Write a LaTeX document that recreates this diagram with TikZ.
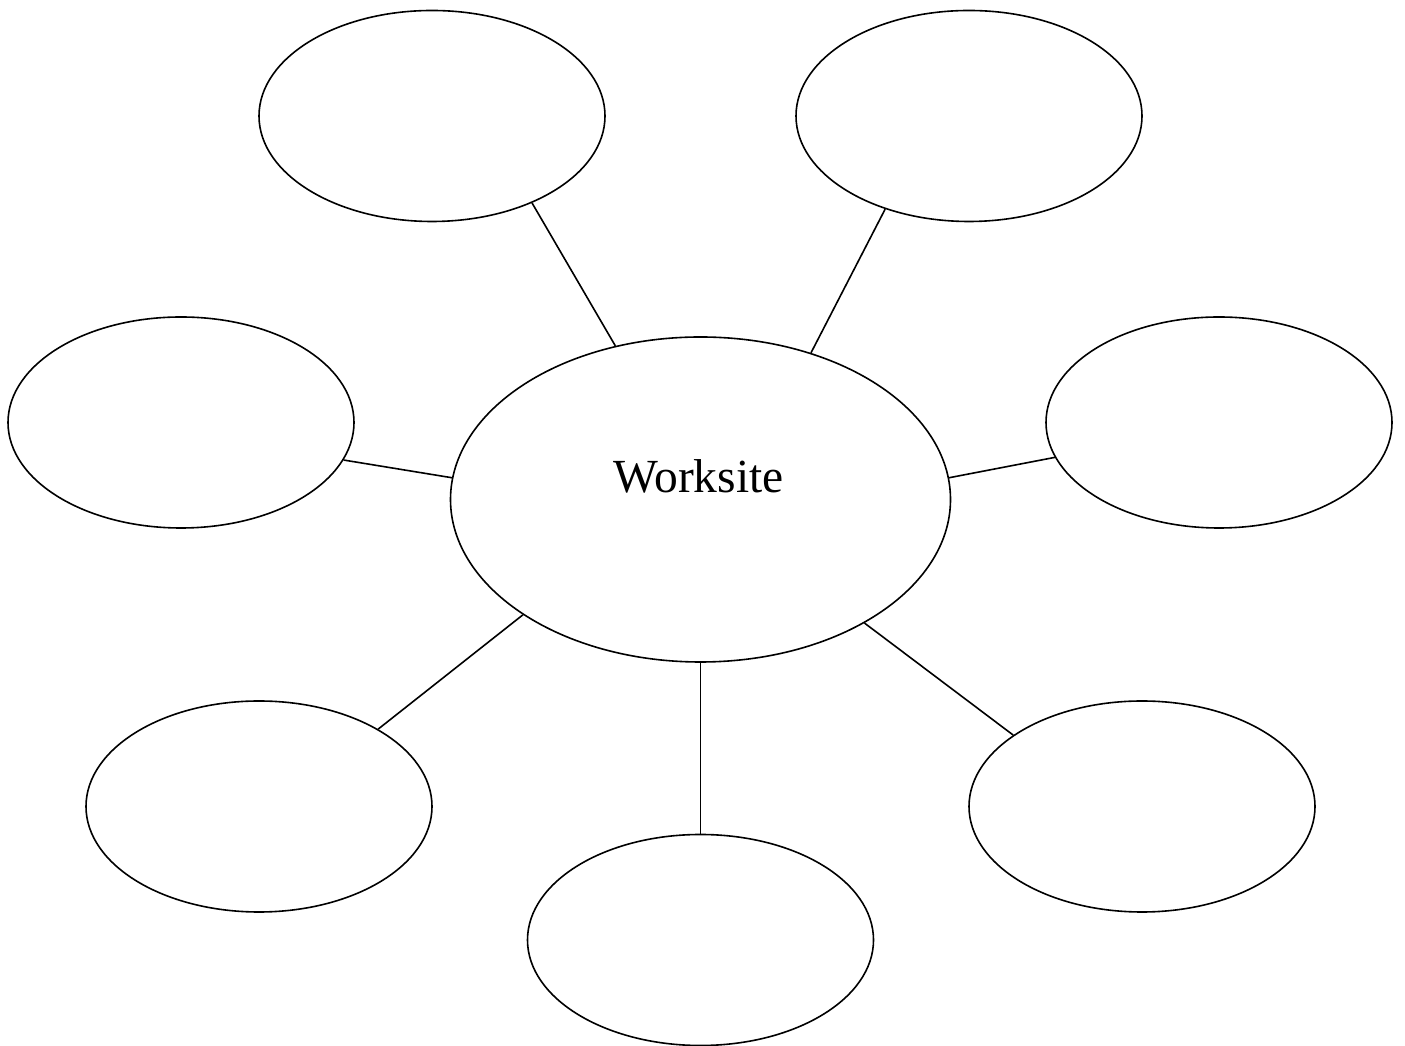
\documentclass[tikz,border=0pt]{standalone}
\usepackage{fontspec}
\setmainfont{Liberation Serif}
\usetikzlibrary{shapes.geometric}
\begin{document}
\begin{tikzpicture}[x=1pt,y=1pt,
  bubble/.style={draw, ellipse, line width=1.6pt, inner sep=0pt,
                 minimum width=346pt, minimum height=211pt},
  hub/.style={draw, ellipse, line width=1.6pt, inner sep=0pt,
              minimum width=500pt, minimum height=325pt},
  spoke/.style={line width=1.6pt}]
  \useasboundingbox (0,0) rectangle (1405,1046);
  % central hub
  \node[hub] (c) at (700.5,546.5) {};
  \node[font=\fontsize{47.5}{52}\selectfont, anchor=base, inner sep=0pt] (lbl) at (698.5,553) {Worksite};
  % surrounding bubbles
  \node[bubble] (tl) at (432,930) {};
  \node[bubble] (tr) at (969,930) {};
  \node[bubble] (ml) at (181,623.5) {};
  \node[bubble] (mr) at (1219,623.5) {};
  \node[bubble] (bl) at (259,239.5) {};
  \node[bubble] (bc) at (700.5,106) {};
  \node[bubble] (br) at (1142,239.5) {};
  % spokes
  \draw[spoke] (tl.-41.6) -- (c.119.3);
  \draw[spoke] (tr.228.6) -- (c.53.8);
  \draw[spoke] (ml.-13.2) -- (c.175.5);
  \draw[spoke] (mr.192.9) -- (c.5.0);
  \draw[spoke] (bl.33.7) -- (c.213.5);
  \draw[spoke] (bc.north) -- (c.south);
  \draw[spoke] (br.151.3) -- (c.-37.9);
\end{tikzpicture}
\end{document}
